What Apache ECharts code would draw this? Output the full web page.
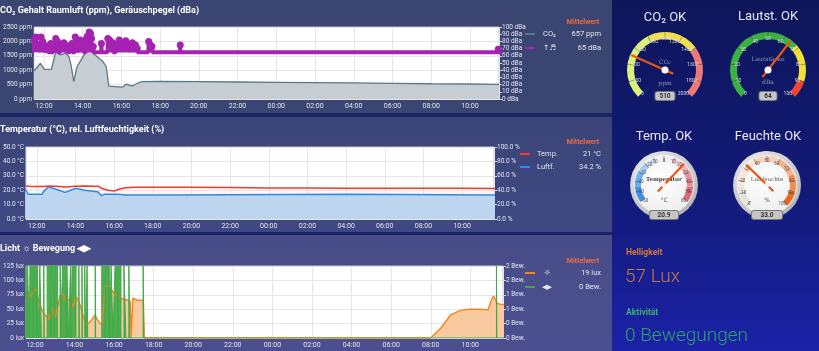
<!DOCTYPE html>
<html>
<head>
<meta charset="utf-8">
<script src="https://cdn.jsdelivr.net/npm/echarts@6/dist/echarts.min.js"></script>
<style>
  html, body { margin: 0; padding: 0; background: #1b2464; overflow: hidden; }
  #wrap { position: relative; width: 819px; height: 351px; }
  .pnl { position: absolute; }
  #p1 { left: 0; top: 0; width: 612px; height: 113px; background: #3b4571; }
  #p2 { left: 0; top: 117px; width: 612px; height: 115px; background: linear-gradient(#3b4578, #3f4882); }
  #p3 { left: 0; top: 235px; width: 612px; height: 116px; background: linear-gradient(#484d88, #4c4f8f); }
  #side { left: 612px; top: 0; width: 207px; height: 351px; background: linear-gradient(#0e165a, #121a78 55%, #1b22a8); }
  .bezel { position: absolute; width: 68px; height: 68px; border-radius: 50%;
    background: radial-gradient(circle at 40% 35%, #fbfbfb, #c4c4c4 65%, #8d8d8d); }
  .face { position: absolute; width: 60px; height: 60px; border-radius: 50%;
    background: radial-gradient(circle at 45% 40%, #ffffff, #eeeeee 75%, #d6d6d6); }
  #main { position: absolute; left: 0; top: 0; width: 819px; height: 351px; }
</style>
</head>
<body>
<div id="wrap">
  <div class="pnl" id="p1"></div>
  <div class="pnl" id="p2"></div>
  <div class="pnl" id="p3"></div>
  <div class="pnl" id="side"></div>
  <div class="bezel" style="left:630px;top:151px;"></div>
  <div class="face" style="left:634px;top:155px;"></div>
  <div class="bezel" style="left:733px;top:151px;"></div>
  <div class="face" style="left:737px;top:155px;"></div>
  <div id="main"></div>
</div>
<script>
// Zeit in Stunden (24 = Mitternacht)
// CO2 (ppm)
var co2Data = [[11.5,980],[11.6,1010],[11.82,1240],[12.02,1030],[12.39,1040],[12.61,1640],[12.86,1530],
  [13.12,1590],[13.29,1470],[13.4,1180],[13.54,600],[13.71,1120],[13.87,1300],[14.13,1590],[14.3,1700],
  [14.46,1640],[14.75,1470],[15.05,1300],[15.22,1120],[15.35,450],[16.06,410],[16.26,520],[16.57,450],
  [16.82,545],[17.07,600],[18,610],[20,600],[22,590],[24,580],[26,570],[28,560],[30,545],[32,530],[34,520],[35.5,510]];
// Geräuschpegel (dBa): Grundpegel und Spitzen
var noiseBase = 65;
var noiseSpikes = [[11.5,83],[11.55,78],[11.6,86],[11.69,75],[11.77,73],[11.85,86],[11.94,80],[12.02,70],
  [12.1,74],[12.22,68],[12.36,77],[12.5,73],[12.61,84],[12.7,80],[12.86,73],[12.95,76],[13.03,78],[13.12,70],
  [13.2,74],[13.37,73],[13.45,77],[13.62,86],[13.71,78],[13.79,70],[13.87,82],[13.96,76],[14.04,73],[14.18,83],
  [14.24,87],[14.34,93],[14.41,91],[14.46,84],[14.55,73],[14.97,77],[15.3,84],[15.39,82],[15.47,75],[15.56,78],
  [15.73,73],[15.81,75],[15.89,82],[15.98,77],[16.06,75],[16.15,78],[16.23,81],[16.31,77],[16.4,73],[16.48,75],
  [16.57,78],[16.65,72],[16.73,75],[16.82,70],[17.41,80],[17.5,75],[17.58,73],[19.04,75],[35.46,69]];
// Temperatur (°C), Luftfeuchte (%)
var tempData = [[11.4,22.9],[11.6,22.7],[12.0,22.5],[12.3,22.6],[12.65,23.0],[13.0,22.8],[13.5,22.3],[14.0,22.8],
  [14.5,22.9],[15.0,22.8],[15.2,22.7],[15.4,21.0],[15.7,20.0],[16.0,19.5],[16.3,20.8],[16.5,21.5],[17.0,22.1],
  [18,22.1],[20,22.0],[22,21.8],[24,21.6],[26,21.5],[28,21.4],[30,21.3],[32,21.3],[34,21.3],[35.7,21.2]];
var humData = [[11.4,41.7],[11.56,34.3],[12.27,34.3],[12.35,38],[12.6,44.9],[13.12,40.3],[13.46,37],[13.79,40.3],
  [14.04,42.6],[14.47,39.8],[15.15,38],[15.35,32.4],[15.49,34.3],[16.16,34.3],[16.67,33.3],[18.7,33.3],
  [18.75,34.5],[28.2,34.5],[28.25,33.3],[35.7,33.3]];
// Helligkeit (lux)
var lightData = [[11.54,66],[11.62,83],[11.78,72],[12.03,86],[12.19,63],[12.44,43],[12.6,37],[12.69,31],[12.85,54],
  [13.02,34],[13.27,72],[13.43,76],[13.6,63],[13.77,69],[13.93,54],[14.09,72],[14.26,60],[14.43,40],[14.59,23],
  [14.76,27],[14.92,34],[15.04,40],[15.17,31],[15.3,25],[15.42,25],[15.55,92],[15.83,86],[16.0,78],[16.16,72],
  [16.33,69],[16.66,66],[16.82,63],[16.86,0],[16.92,0],[16.95,69],[17.15,66],[17.48,65],[17.53,0],[32.0,0],
  [32.5,17],[33.0,40],[33.5,48],[34.0,50],[34.5,50],[34.9,49],[35.03,63],[35.17,73],[35.28,66],[35.36,60],[35.7,57]];
// Bewegung: Zeiträume mit Bewegung [von, bis]
var motionSpans = [[11.55,11.6],[11.63,11.72],[11.75,11.92],[11.95,12.08],[12.12,12.18],[12.25,12.33],[12.45,12.47],
  [12.62,12.8],[12.84,12.98],[13.02,13.15],[13.28,13.3],[13.4,13.58],[13.62,13.7],[13.8,13.82],[13.88,14.08],
  [14.22,14.25],[14.38,14.4],[14.52,14.56],[14.64,14.67],[15.05,15.07],[15.38,15.55],[15.58,15.72],[15.75,15.78],
  [15.85,15.95],[16.05,16.18],[16.22,16.35],[16.5,16.6],[16.75,16.78],[17.47,17.5],[35.32,35.34]];
var motionLevel = 2;

// Mittelwerte und aktuelle Werte
var avgCo2 = 657, avgNoise = 65, avgTemp = 21, avgHum = 34.2, avgLight = 19, avgMotion = 0;
var nowCo2 = 510, nowNoise = 64, nowTemp = 20.9, nowHum = 33.0, nowLight = 57, nowMotion = 0;

// Tabellen für die Serien
var noiseData = [[11.4, noiseBase]];
noiseSpikes.forEach(function (p) {
  noiseData.push([p[0] - 0.012, noiseBase], p, [p[0] + 0.012, noiseBase]);
});
noiseData.push([35.7, noiseBase]);
noiseData.sort(function (a, b) { return a[0] - b[0]; });

var motionData = [[11.4, 0]];
motionSpans.forEach(function (s) {
  motionData.push([s[0], 0], [s[0], motionLevel], [s[1], motionLevel], [s[1], 0]);
});
motionData.push([35.7, 0]);

var labelColor = '#e2e5f1';
var FONT = 'Roboto, sans-serif';

function fmtHour(v) {
  var h = Math.round(v) % 24;
  return (h < 10 ? '0' : '') + h + ':00';
}

function timeAxis(g, min, max) {
  return {
    type: 'value', gridIndex: g, min: min, max: max, splitNumber: 12,
    axisLine: { show: false }, axisTick: { show: false },
    axisLabel: { color: labelColor, fontSize: 7, fontFamily: FONT, margin: 4,
      showMinLabel: false, showMaxLabel: false, formatter: fmtHour },
    splitLine: { show: true, lineStyle: { color: '#e6e6e6' } }
  };
}

function leftAxis(g, max, step, fmt) {
  return {
    type: 'value', gridIndex: g, position: 'left', min: 0, max: max, interval: step,
    axisLine: { show: false }, axisTick: { show: false },
    axisLabel: { color: labelColor, fontSize: 6.5, fontFamily: FONT, margin: 2, formatter: fmt },
    splitLine: { show: true, lineStyle: { color: '#e6e6e6' } }
  };
}

function rightAxis(g, max, step, fmt) {
  return {
    type: 'value', gridIndex: g, position: 'right', min: 0, max: max, interval: step,
    axisLine: { show: false },
    axisTick: { show: true, length: 3, lineStyle: { color: '#cfd3e3' } },
    axisLabel: { color: labelColor, fontSize: 6.5, fontFamily: FONT, margin: 3, formatter: fmt },
    splitLine: { show: false }
  };
}

function txt(x, y, s, font, fill, align) {
  return { type: 'text', x: x, y: y, silent: true,
    style: { text: s, font: font, fill: fill, align: align || 'left', verticalAlign: 'middle',
      textAlign: align || 'left', textVerticalAlign: 'middle' } };
}
function seg(x1, x2, y, color) {
  return { type: 'line', silent: true, shape: { x1: x1, y1: y, x2: x2, y2: y },
    style: { stroke: color, lineWidth: 2 } };
}

function gauge(opt) {
  return {
    type: 'gauge', center: opt.center, radius: opt.radius, min: opt.min, max: opt.max,
    splitNumber: opt.split, startAngle: opt.start, endAngle: opt.end,
    axisLine: { lineStyle: { width: opt.band, color: opt.colors } },
    splitLine: { distance: -opt.band, length: opt.band, lineStyle: { color: opt.markColor, width: 0.8 } },
    axisTick: { show: false },
    axisLabel: { distance: opt.labelDist, fontSize: opt.labelSize, color: opt.labelColor, fontFamily: FONT },
    pointer: { icon: 'rect', width: 2.2, length: opt.needle, offsetCenter: [0, opt.tail],
      itemStyle: { color: '#e8560f' } },
    anchor: { show: true, showAbove: true, size: opt.anchor, itemStyle: { color: opt.anchorColor, borderWidth: 0 } },
    title: { offsetCenter: [0, opt.titleY], fontSize: opt.titleSize, color: opt.titleColor,
      fontFamily: 'DejaVu Serif, serif', fontWeight: opt.titleWeight },
    detail: { offsetCenter: [0, opt.boxY], formatter: opt.fmt, fontSize: 6.5, color: '#333',
      fontFamily: FONT, backgroundColor: '#c6c6c6', borderColor: '#777', borderWidth: 1,
      borderRadius: 2, width: opt.boxW, height: 8, lineHeight: 8, padding: [0, 0] },
    data: [{ value: opt.value, name: opt.name }]
  };
}

var chart = echarts.init(document.getElementById('main'), null, { renderer: 'canvas' });

var option = {
  backgroundColor: 'transparent',
  animation: false,
  grid: [
    { left: 23, top: 27, width: 476, height: 72, show: true, backgroundColor: '#fff', borderColor: '#c4c4c4', borderWidth: 1 },
    { left: 17, top: 147, width: 477, height: 72, show: true, backgroundColor: '#fff', borderColor: '#c4c4c4', borderWidth: 1 },
    { left: 17, top: 266, width: 486, height: 72, show: true, backgroundColor: '#fff', borderColor: '#c4c4c4', borderWidth: 1 }
  ],
  xAxis: [timeAxis(0, 11.5, 35.5), timeAxis(1, 11.44, 35.65), timeAxis(2, 11.55, 35.65)],
  yAxis: [
    leftAxis(0, 2500, 500, function (v) { return v + ' ppm'; }),
    rightAxis(0, 100, 10, function (v) { return v + ' dBa'; }),
    leftAxis(1, 50, 10, function (v) { return v.toFixed(1) + ' °C'; }),
    rightAxis(1, 100, 20, function (v) { return v.toFixed(1) + ' %'; }),
    leftAxis(2, 125, 25, function (v) { return v + ' lux'; }),
    rightAxis(2, 2, 0.4, function (v) { return Math.round(v) + ' Bew.'; })
  ],
  series: [
    { name: 'CO₂', type: 'line', xAxisIndex: 0, yAxisIndex: 0, data: co2Data, symbol: 'none',
      lineStyle: { color: '#5d7886', width: 1.3 }, areaStyle: { color: '#c6ced4', opacity: 1 } },
    { name: 'Lärm', type: 'line', xAxisIndex: 0, yAxisIndex: 1, data: noiseData, symbol: 'circle',
      showAllSymbol: true, symbolSize: function (v) { return v[1] > noiseBase ? 7 : 0; },
      itemStyle: { color: '#a522b2' }, lineStyle: { color: '#a522b2', width: 4 } },
    { name: 'Luftf.', type: 'line', xAxisIndex: 1, yAxisIndex: 3, data: humData, symbol: 'none',
      lineStyle: { color: '#2d8ce8', width: 1.5 }, areaStyle: { color: '#a8d5f7', opacity: 1 } },
    { name: 'Temp.', type: 'line', xAxisIndex: 1, yAxisIndex: 2, data: tempData, symbol: 'none',
      lineStyle: { color: '#ee3d30', width: 1.5 }, areaStyle: { color: '#ffd6d6', opacity: 0.25 } },
    { name: 'Licht', type: 'line', xAxisIndex: 2, yAxisIndex: 4, data: lightData, symbol: 'none',
      lineStyle: { color: '#f0841f', width: 1.4 }, areaStyle: { color: '#f9c9a0', opacity: 1 } },
    { name: 'Bewegung', type: 'line', xAxisIndex: 2, yAxisIndex: 5, data: motionData, symbol: 'none',
      lineStyle: { color: '#43a847', width: 1 }, areaStyle: { color: '#4caf50', opacity: 1 } },

    gauge({ center: [665, 70], radius: 38, min: 0, max: 2000, split: 10, start: 225, end: -45, band: 7,
      colors: [[0.4, '#dcf07c'], [0.7, '#f3df4d'], [1, '#ee7878']], markColor: 'rgba(60,60,60,0.55)',
      labelDist: 4, labelSize: 5, labelColor: '#d6d8e0', needle: 46, tail: 9, anchor: 7, anchorColor: '#fff',
      titleY: -8, titleSize: 6, titleColor: '#8e98b0', titleWeight: 'normal', boxY: 26, boxW: 19,
      fmt: '{value}', value: nowCo2, name: 'CO₂' }),
    gauge({ center: [768, 70], radius: 38, min: 0, max: 100, split: 10, start: 225, end: -45, band: 7,
      colors: [[0.68, '#3cb043'], [0.9, '#f2df3a'], [1, '#ee4634']], markColor: 'rgba(40,60,40,0.55)',
      labelDist: 4, labelSize: 5, labelColor: '#d6d8e0', needle: 46, tail: 9, anchor: 7, anchorColor: '#fff',
      titleY: -11, titleSize: 6, titleColor: '#8e98b0', titleWeight: 'normal', boxY: 26, boxW: 17,
      fmt: '{value}', value: nowNoise, name: 'Lautstärke' }),
    gauge({ center: [664, 185], radius: 29, min: -60, max: 60, split: 12, start: 215, end: -35, band: 6,
      colors: [[0.125, '#3f90e6'], [0.25, '#6cafee'], [0.333, '#a0cbf4'], [0.417, '#d2e5f8'], [0.583, '#f4f1f1'],
        [0.667, '#f8d2d6'], [0.75, '#f3b1b8'], [0.875, '#ec8e98'], [1, '#e06878']],
      markColor: 'rgba(60,60,60,0.6)', labelDist: 2, labelSize: 4.5, labelColor: '#555',
      needle: 38, tail: 9, anchor: 5, anchorColor: '#f2f2f2',
      titleY: -5, titleSize: 5.5, titleColor: '#444', titleWeight: 'bold', boxY: 30, boxW: 28,
      fmt: function (v) { return v.toFixed(1); }, value: nowTemp, name: 'Temperatur' }),
    gauge({ center: [767, 185], radius: 29, min: 0, max: 100, split: 10, start: 225, end: -45, band: 6,
      colors: [[0.15, '#e6e2e0'], [0.4, '#fbe5d8'], [0.6, '#f9d1b8'], [0.75, '#f6b38b'], [0.88, '#f28d50'], [1, '#eb681b']],
      markColor: 'rgba(60,60,60,0.6)', labelDist: 2, labelSize: 4.5, labelColor: '#555',
      needle: 38, tail: 9, anchor: 5, anchorColor: '#f2f2f2',
      titleY: -5, titleSize: 5.5, titleColor: '#555', titleWeight: 'normal', boxY: 30, boxW: 30,
      fmt: function (v) { return v.toFixed(1); }, value: nowHum, name: 'Luftfeuchte' })
  ],
  graphic: [
    // Titel
    txt(0, 11, 'CO₂ Gehalt Raumluft (ppm), Geräuschpegel (dBa)', 'bold 9px ' + FONT, '#ffffff'),
    txt(0, 130, 'Temperatur (°C), rel. Luftfeuchtigkeit (%)', 'bold 9px ' + FONT, '#ffffff'),
    txt(0, 249, 'Licht ☼ Bewegung ◀▶', 'bold 9px ' + FONT, '#ffffff'),
    // Legende 1
    txt(583, 22, 'Mittelwert', 'bold 7px ' + FONT, '#f26a3c', 'center'),
    seg(525, 535, 34, '#5d7886'), txt(543, 34, 'CO₂', '7.5px ' + FONT, labelColor),
    txt(601, 34, avgCo2 + ' ppm', '7.5px ' + FONT, labelColor, 'right'),
    seg(525, 535, 48, '#a522b2'), txt(543, 48, '↑♬', '7.5px DejaVu Sans', labelColor),
    txt(601, 48, avgNoise + ' dBa', '7.5px ' + FONT, labelColor, 'right'),
    // Legende 2
    txt(583, 142, 'Mittelwert', 'bold 7px ' + FONT, '#f26a3c', 'center'),
    seg(520, 530, 154, '#ee3d30'), txt(537, 154, 'Temp.', '7.5px ' + FONT, labelColor),
    txt(601, 154, avgTemp + ' °C', '7.5px ' + FONT, labelColor, 'right'),
    seg(520, 530, 167, '#2d8ce8'), txt(537, 167, 'Luftf.', '7.5px ' + FONT, labelColor),
    txt(601, 167, avgHum + ' %', '7.5px ' + FONT, labelColor, 'right'),
    // Legende 3
    txt(583, 261, 'Mittelwert', 'bold 7px ' + FONT, '#f26a3c', 'center'),
    seg(525, 535, 273, '#f0841f'), txt(544, 273, '☼', '7.5px DejaVu Sans', labelColor),
    txt(601, 273, avgLight + ' lux', '7.5px ' + FONT, labelColor, 'right'),
    seg(525, 535, 287, '#43a847'), txt(542, 287, '◀▶', '6.5px DejaVu Sans', labelColor),
    txt(601, 287, avgMotion + ' Bew.', '7.5px ' + FONT, labelColor, 'right'),
    // Gauge-Überschriften und Einheiten
    txt(665, 18, 'CO₂ OK', '13px ' + FONT, '#e6e8f0', 'center'),
    txt(768, 17, 'Lautst. OK', '13px ' + FONT, '#e6e8f0', 'center'),
    txt(664, 137, 'Temp. OK', '13px ' + FONT, '#e6e8f0', 'center'),
    txt(768, 137, 'Feuchte OK', '13px ' + FONT, '#e6e8f0', 'center'),
    txt(665, 83, 'ppm', '6px DejaVu Serif', '#8e98b0', 'center'),
    txt(768, 82, 'dBa', '6px DejaVu Serif', '#8e98b0', 'center'),
    txt(664, 200, '°C', '6px DejaVu Sans', '#555', 'center'),
    txt(767, 200, '%', '6px DejaVu Sans', '#555', 'center'),
    // Helligkeit / Aktivität
    txt(626, 253, 'Helligkeit', 'bold 8.5px ' + FONT, '#d2793a'),
    txt(625, 277, nowLight + ' Lux', '300 19px ' + FONT, '#c9793e'),
    txt(626, 313, 'Aktivität', 'bold 8.5px ' + FONT, '#3cae6e'),
    txt(625, 336, nowMotion + ' Bewegungen', '300 19px ' + FONT, '#2fa06a')
  ]
};

chart.setOption(option);
</script>
</body>
</html>
